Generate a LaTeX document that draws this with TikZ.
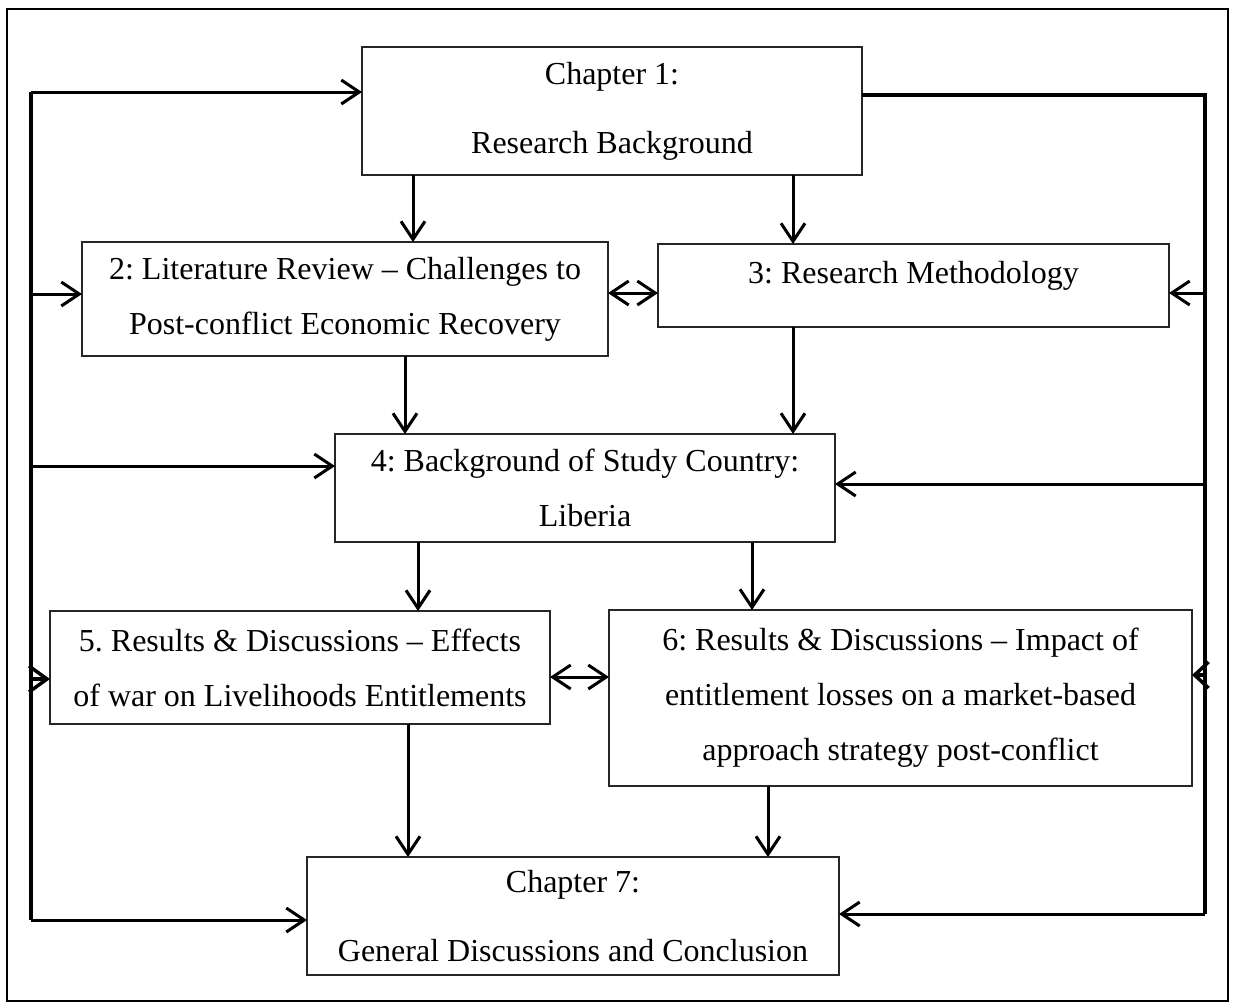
\documentclass[tikz,border=0pt]{standalone}
\usepackage{fontspec}
\setmainfont{Liberation Serif}
\frenchspacing
\usetikzlibrary{arrows.meta}
\begin{document}
\begin{tikzpicture}[x=1pt,y=-1pt,
  box/.style={draw=black!85, line width=1.5pt, outer sep=0pt, inner sep=0pt,
    align=center, font=\fontsize{32}{55}\selectfont},
  arr/.style={line width=3pt, -{Straight Barb[length=18pt,width=24pt]}},
  arrs/.style={line width=3.5pt, -{Straight Barb[length=18pt,width=26pt]}},
  arrt/.style={line width=3.5pt, -{Straight Barb[length=14pt,width=26pt]}},
  dbl/.style={line width=3pt, {Straight Barb[length=18pt,width=24pt]}-{Straight Barb[length=18pt,width=24pt]}},
  bus/.style={line width=4.5pt}]
\useasboundingbox (0,0) rectangle (1237,1005);
\fill[white] (0,0) rectangle (1237,1005);
% outer frame
\draw[line width=2.5pt] (7,9) rectangle (1228,1001);

% chapter boxes
\node[box, minimum width=500pt, minimum height=128pt] (b1) at (612,111)
  {Chapter 1:\\[14pt]Research Background};
\node[box, minimum width=526pt, minimum height=114pt] (b2) at (345,299)
  {2: Literature Review -- Challenges to\\Post-conflict Economic Recovery};
\node[box, minimum width=511pt, minimum height=83pt, text height=23pt, text depth=28pt] (b3) at (913.5,285.5)
  {3: Research Methodology};
\node[box, minimum width=500pt, minimum height=108pt] (b4) at (585,488)
  {4: Background of Study Country:\\Liberia};
\node[box, minimum width=500pt, minimum height=113pt] (b5) at (300,667.5)
  {5. Results \& Discussions -- Effects\\of war on Livelihoods Entitlements};
\node[box, minimum width=583pt, minimum height=176pt] (b6) at (900.5,698)
  {6: Results \& Discussions -- Impact of\\entitlement losses on a market-based\\approach strategy post-conflict};
\node[box, minimum width=532pt, minimum height=118pt] (b7) at (573,916)
  {Chapter 7:\\[14pt]General Discussions and Conclusion};

% bus lines and connector positions
\coordinate (L) at (31,0);
\coordinate (R) at (1205,0);
\coordinate (ya) at (0,92);
\coordinate (yb) at (0,294);
\coordinate (yc) at (0,466);
\coordinate (yd) at (0,679);
\coordinate (ye) at (0,920);
\coordinate (yf) at (0,95);
\coordinate (yg) at (0,293);
\coordinate (yh) at (0,484);
\coordinate (yi) at (0,675);
\coordinate (yj) at (0,914);
\coordinate (yk) at (0,677);
\coordinate (xa) at (413,0);
\coordinate (xb) at (793,0);
\coordinate (xc) at (405,0);
\coordinate (xd) at (418,0);
\coordinate (xe) at (752,0);
\coordinate (xf) at (408,0);
\coordinate (xg) at (768,0);

% left feedback bus
\draw[bus] (L |- ya) -- (L |- ye);
\draw[arr] (L |- ya) -- (b1.west |- ya);
\draw[arr] (L |- yb) -- (b2.west |- yb);
\draw[arr] (L |- yc) -- (b4.west |- yc);
\draw[arrs] (L |- yd) -- (b5.west |- yd);
\draw[arr] (L |- ye) -- (b7.west |- ye);

% right feedback bus
\draw[bus] (b1.east |- yf) -- (R |- yf) -- (R |- yj);
\draw[arr] (R |- yg) -- (b3.east |- yg);
\draw[arr] (R |- yh) -- (b4.east |- yh);
\draw[arrt] (R |- yi) -- (b6.east |- yi);
\draw[arr] (R |- yj) -- (b7.east |- yj);

% downward flow
\draw[arr] (b1.south -| xa) -- (b2.north -| xa);
\draw[arr] (b1.south -| xb) -- (b3.north -| xb);
\draw[arr] (b2.south -| xc) -- (b4.north -| xc);
\draw[arr] (b3.south -| xb) -- (b4.north -| xb);
\draw[arr] (b4.south -| xd) -- (b5.north -| xd);
\draw[arr] (b4.south -| xe) -- (b6.north -| xe);
\draw[arr] (b5.south -| xf) -- (b7.north -| xf);
\draw[arr] (b6.south -| xg) -- (b7.north -| xg);

% two-way links
\draw[dbl] (b2.east |- yg) -- (b3.west |- yg);
\draw[dbl] (b5.east |- yk) -- (b6.west |- yk);
\end{tikzpicture}
\end{document}
